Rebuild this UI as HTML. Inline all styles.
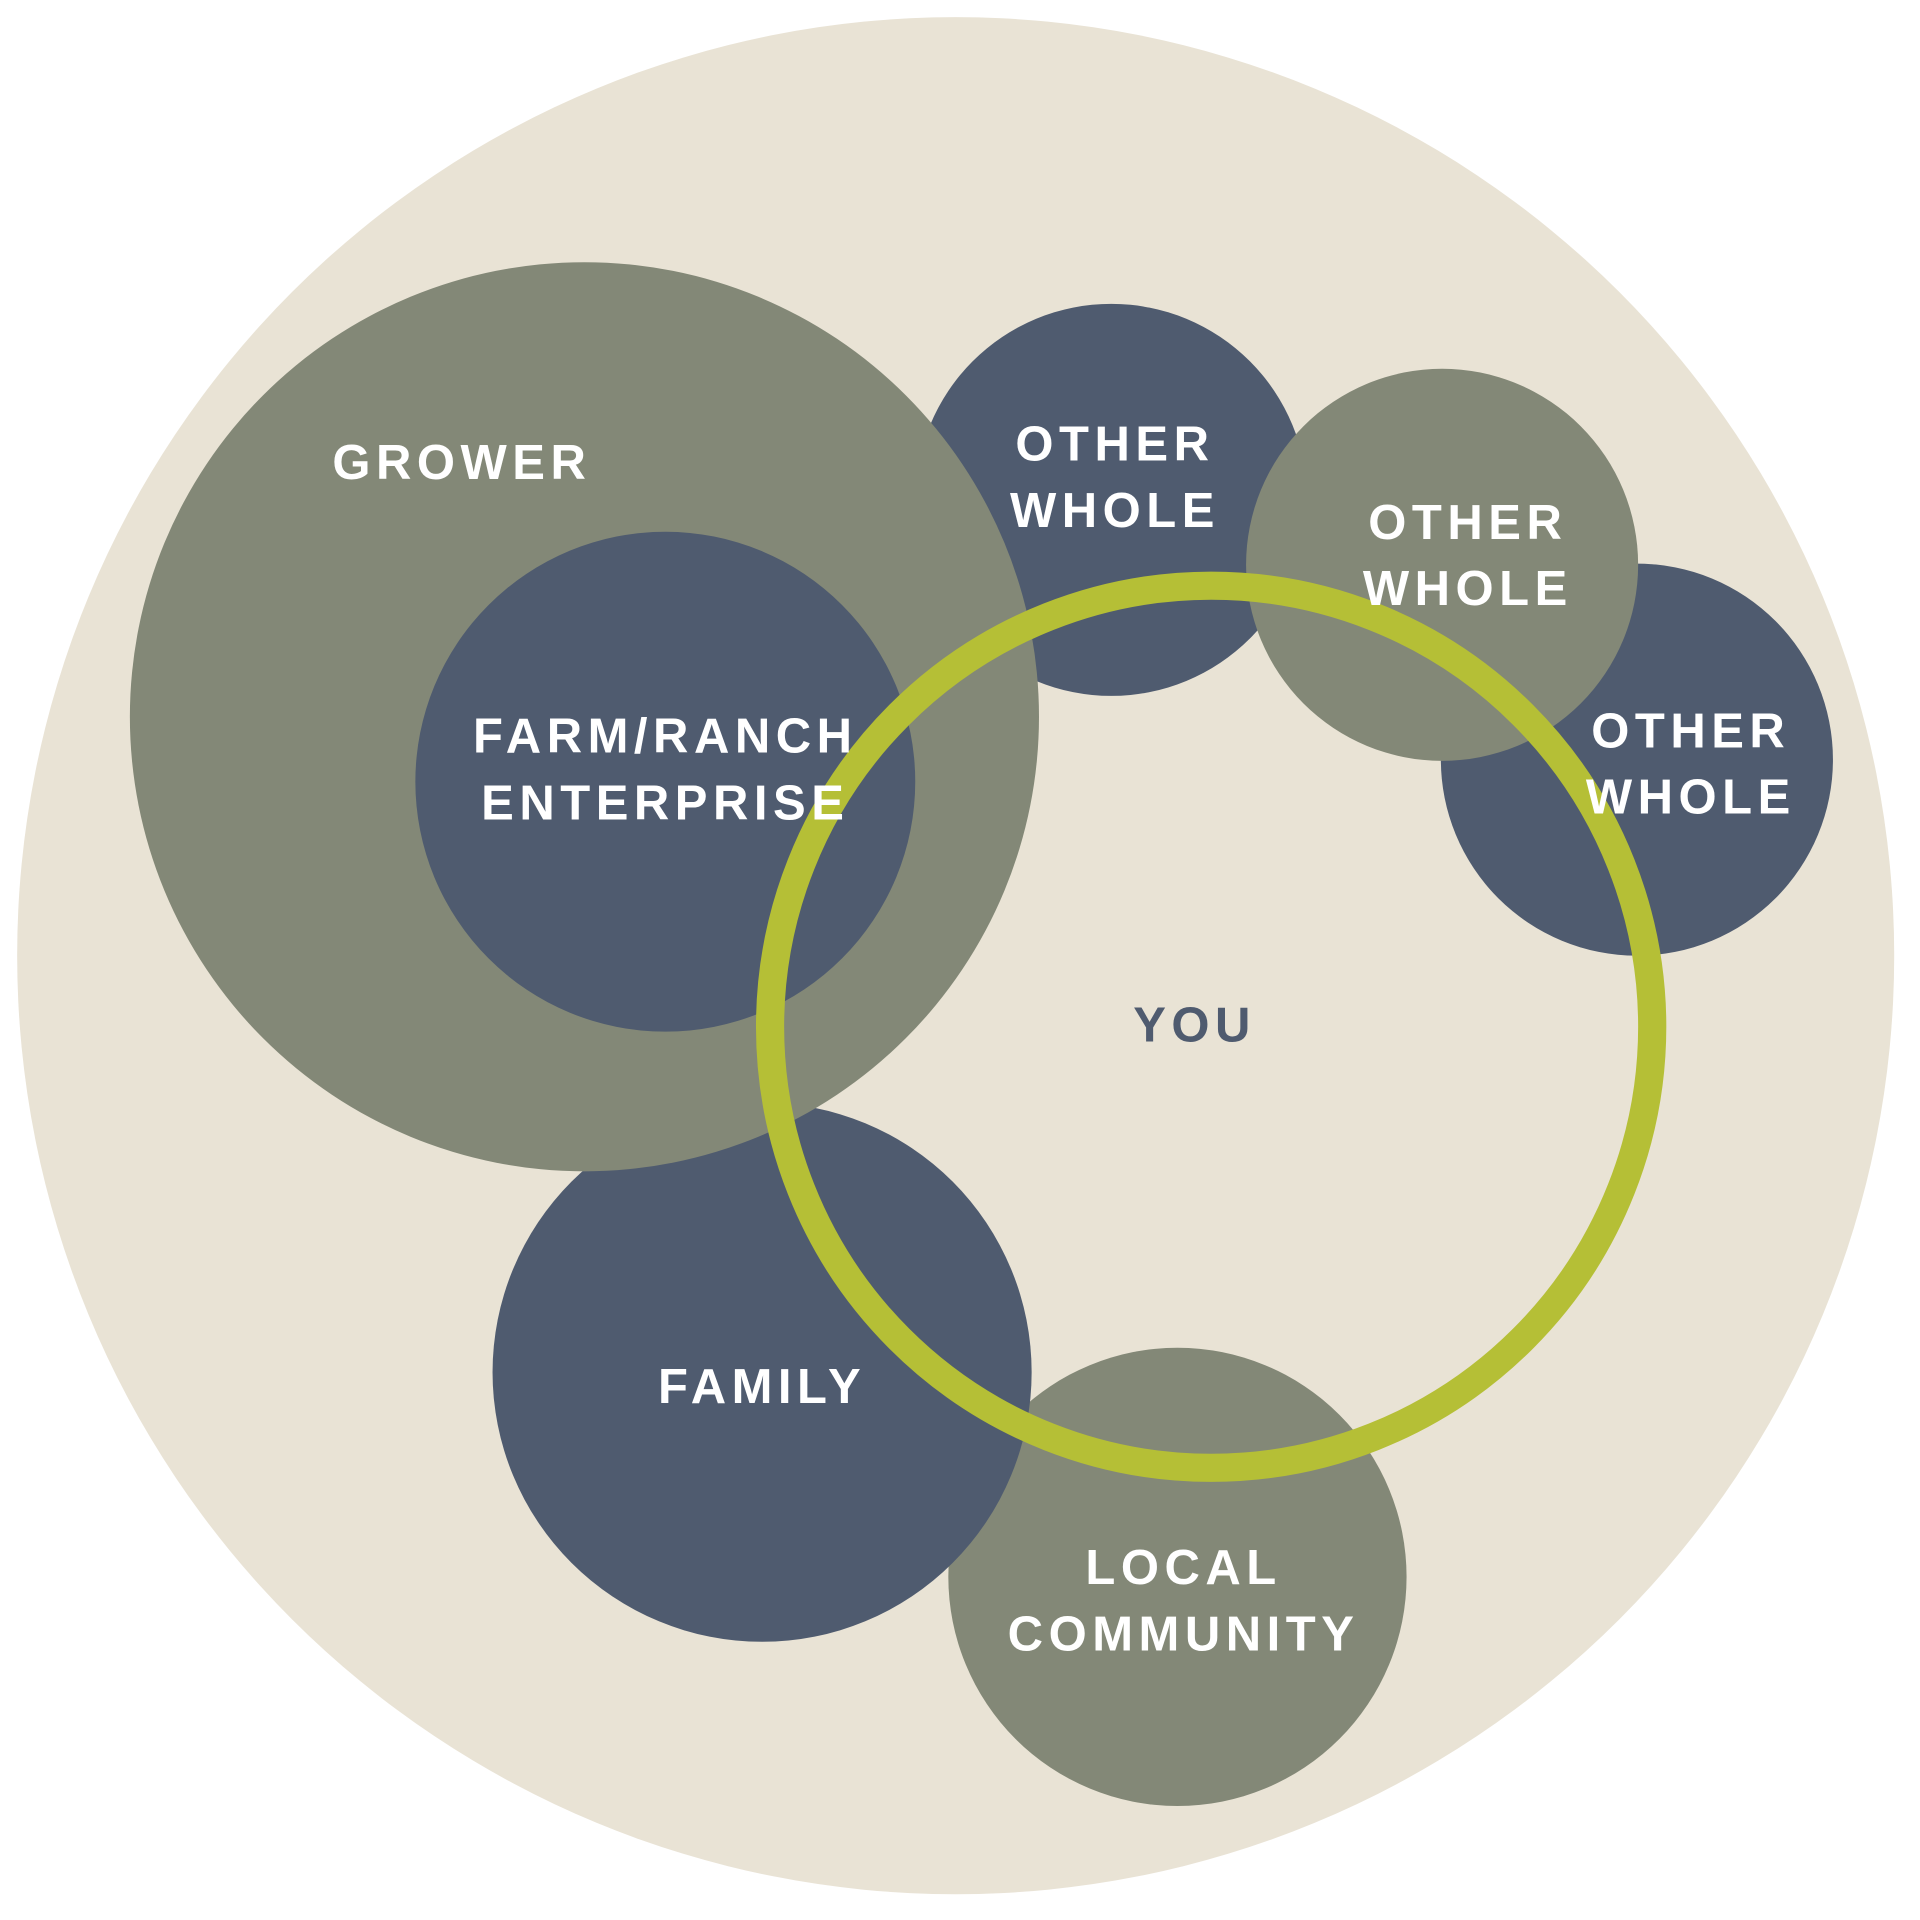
<!DOCTYPE html>
<html><head><meta charset="utf-8"><style>
html,body{margin:0;padding:0;background:#fff;}
svg{display:block;}
text{font-family:"Liberation Sans",sans-serif;font-weight:bold;font-size:40px;letter-spacing:4.5px;fill:#fff;text-anchor:middle;}
</style></head><body>
<svg width="1920" height="1920" viewBox="0 0 1560 1560" xmlns="http://www.w3.org/2000/svg">
<rect width="1560" height="1560" fill="#fff"/>
<g transform="scale(0.9955)">
<circle cx="780" cy="780" r="766" fill="#e9e3d5"/>
<circle cx="1336" cy="620" r="160" fill="#4f5b6f"/>
<circle cx="907" cy="408" r="160" fill="#4f5b6f"/>
<circle cx="1177" cy="461" r="160" fill="#838877"/>
<circle cx="961" cy="1287" r="187" fill="#838877"/>
<circle cx="622" cy="1120" r="220" fill="#4f5b6f"/>
<circle cx="477" cy="585" r="371" fill="#838877"/>
<circle cx="543" cy="638" r="204" fill="#4f5b6f"/>
<circle cx="988.5" cy="838" r="360" fill="none" stroke="#b5bf36" stroke-width="23"/>
<text x="377" y="391">GROWER</text>
<text x="543" y="614">FARM/RANCH</text>
<text x="543" y="669">ENTERPRISE</text>
<text x="910" y="376">OTHER</text>
<text x="910" y="430">WHOLE</text>
<text x="1198" y="440">OTHER</text>
<text x="1198" y="494">WHOLE</text>
<text x="1380" y="610">OTHER</text>
<text x="1380" y="664">WHOLE</text>
<text x="975" y="850" style="fill:#4f5b6f">YOU</text>
<text x="622" y="1145">FAMILY</text>
<text x="966" y="1293">LOCAL</text>
<text x="966" y="1347">COMMUNITY</text>
</g>
</svg>
</body></html>
